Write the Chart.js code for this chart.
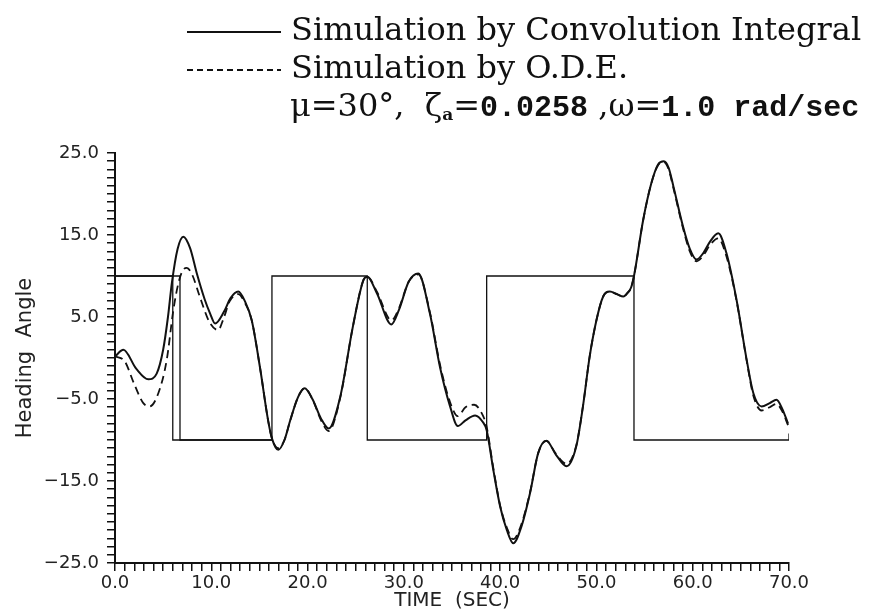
<!DOCTYPE html>
<html>
<head>
<meta charset="utf-8">
<script src="https://cdn.jsdelivr.net/npm/chart.js@4.4.1/dist/chart.umd.min.js"></script>
<style>
  html, body { margin: 0; padding: 0; background: #fff; }
  #wrap { position: relative; width: 876px; height: 615px; }
  #legend { position: absolute; left: 0; top: 0; font-family: "DejaVu Serif", serif; color: #111; }
  .row { position: absolute; left: 187px; white-space: nowrap; font-size: 32px; line-height: 36px; }
  .sample { display: inline-block; width: 94px; height: 2px; vertical-align: middle; margin-right: 10px; }
  .solid { background: #111; }
  .dashed { background: repeating-linear-gradient(to right, #111 0 6px, transparent 6px 10px); }
  .num { font-family: "Liberation Mono", monospace; font-weight: bold; font-size: 30px; }
  sub { font-size: 17px; font-weight: bold; vertical-align: -4px; }
</style>
</head>
<body>
<div id="wrap">
  <canvas id="chart" width="876" height="615"></canvas>
  <div id="legend">
    <div class="row" style="top:11px"><span class="sample solid"></span>Simulation by Convolution Integral</div>
    <div class="row" style="top:49px"><span class="sample dashed"></span>Simulation by O.D.E.</div>
    <div class="row" style="top:87px; left:290px">μ=30°,&nbsp; ζ<sub>a</sub>=<span class="num">0.0258</span> ,ω=<span class="num">1.0 rad/sec</span></div>
  </div>
</div>
<script>
// 畳み込み積分によるシミュレーション（実線）
const convT = [0, 0.87, 2.2, 3.46, 4.33, 5.0, 5.5, 5.9, 6.5, 7.1, 7.8, 8.5, 9.3, 9.87, 10.4, 11.3, 12.0, 12.8, 13.5, 14.2,
    15.05, 15.9, 16.3, 16.96, 17.6, 18.2, 19.0, 19.7, 20.5, 21.4, 22.2, 23.4, 24.7, 25.8, 26.2, 27.2, 28.7, 29.5, 30.5, 31.5,
    32.7, 33.75, 34.8, 35.6, 36.4, 37.4, 38.2, 38.6, 39.3, 40.0, 40.7, 41.36, 42.2, 43.1, 43.95, 44.8, 45.8, 46.9, 47.9, 48.6,
    49.3, 50.0, 50.7, 51.4, 52.1, 52.8, 53.2, 53.6, 53.9, 54.85, 55.7, 56.4, 57.0, 57.5, 58.0, 59.0, 59.7, 60.4, 61.1, 61.8,
    62.65, 63.5, 64.55, 65.6, 66.3, 67.15, 68.0, 68.7, 69.3, 69.9];
const convV = [0.2, 1.0, -1.3, -2.6, -1.9, 1.0, 5.0, 9.1, 13.3, 14.8, 13.4, 10.3, 7.2, 5.45, 4.2, 5.6, 7.3, 8.1, 6.9, 4.6,
    -1.1, -7.6, -9.8, -11.2, -10.0, -7.6, -4.8, -3.7, -5.0, -7.4, -8.6, -4.7, 3.8, 9.5, 9.9, 7.9, 4.1, 5.9, 9.3, 10.3,
    5.45, -1.1, -5.9, -8.3, -7.6, -7.0, -7.8, -8.8, -13.7, -18.1, -21.0, -22.6, -20.6, -16.5, -11.6, -10.1, -11.8, -13.2, -10.8, -5.9,
    0.2, 4.6, 7.5, 8.1, 7.8, 7.5, 7.9, 8.6, 10.0, 16.8, 21.3, 23.6, 24.0, 23.2, 20.9, 16.0, 13.3, 12.0, 12.8, 14.2,
    15.2, 12.8, 7.1, -0.2, -4.3, -5.9, -5.5, -5.1, -6.2, -8.0];

// 常微分方程式によるシミュレーション（破線）
const odeT = [0, 1.04, 1.9, 2.94, 3.6, 4.5, 5.37, 6.06, 6.58, 7.0, 7.45, 8.0, 8.8, 9.8, 10.7, 11.3, 11.9, 12.8, 13.5, 14.2,
    15.05, 15.9, 16.3, 16.96, 17.6, 18.2, 19.0, 19.7, 20.5, 21.4, 22.2, 23.4, 24.7, 25.8, 26.2, 27.2, 28.7, 29.5, 30.5, 31.5,
    32.7, 33.75, 34.8, 35.6, 36.4, 37.3, 38.2, 38.6, 39.3, 40.0, 40.7, 41.36, 42.2, 43.1, 43.95, 44.8, 45.8, 46.9, 47.9, 48.6,
    49.3, 50.0, 50.7, 51.4, 52.1, 52.8, 53.2, 53.6, 53.9, 54.85, 55.7, 56.4, 57.0, 57.5, 58.0, 59.0, 59.7, 60.4, 61.1, 61.8,
    62.65, 63.5, 64.55, 65.6, 66.3, 67.15, 68.0, 68.7, 69.3, 69.9];
const odeV = [0.2, -0.45, -2.9, -5.5, -5.9, -4.3, -0.25, 5.85, 9.1, 10.6, 11.0, 10.2, 7.5, 4.4, 3.4, 4.9, 6.9, 7.8, 6.7, 4.6,
    -1.1, -7.6, -9.8, -11.0, -10.0, -7.6, -4.8, -3.7, -5.0, -7.6, -8.9, -4.8, 3.8, 9.5, 9.9, 8.1, 4.6, 6.1, 9.3, 10.2,
    5.6, -0.8, -5.4, -7.1, -6.0, -5.7, -7.0, -8.4, -13.5, -18.0, -20.7, -22.1, -20.3, -16.4, -11.6, -10.1, -11.7, -12.9, -10.7, -5.9,
    0.2, 4.6, 7.5, 8.1, 7.8, 7.5, 7.9, 8.6, 10.0, 16.8, 21.3, 23.5, 23.9, 23.0, 20.7, 15.8, 13.0, 11.8, 12.5, 13.8,
    14.6, 12.4, 7.0, -0.3, -4.6, -6.4, -6.0, -5.6, -6.5, -8.2];

// 舵角指令（±10 の矩形波）。最初の切替だけ 2 本ある
const cmdT = [0, 6.0, 6.0, 16.3, 16.3, 26.2, 26.2, 38.6, 38.6, 53.9, 53.9, 70, 70];
const cmdV = [10, 10, -10, -10, 10, 10, -10, -10, 10, 10, -10, -10, -9.2];
const cmd2T = [0, 6.75, 6.75, 16.3];
const cmd2V = [10, 10, -10, -10];

// 目盛ラベル
const xTickLabels = [0, 10, 20, 30, 40, 50, 60, 70];
const yTickLabels = [-25, -15, -5, 5, 15, 25];

const pts = (t, v) => t.map((x, i) => ({ x: x, y: v[i] }));
const fmt = (v) => (v < 0 ? "\u2212" : "") + Math.abs(v).toFixed(1);

const ink = "#111";
const tickFont = { family: "DejaVu Sans", size: 18 };
const titleFont = { family: "DejaVu Sans", size: 21 };

new Chart(document.getElementById("chart"), {
    type: "scatter",
    data: {
        datasets: [
            { data: pts(cmdT, cmdV), showLine: true, borderColor: ink, borderWidth: 1.3, tension: 0 },
            { data: pts(cmd2T, cmd2V), showLine: true, borderColor: ink, borderWidth: 1.3, tension: 0 },
            { data: pts(odeT, odeV), showLine: true, borderColor: ink, borderWidth: 1.8,
              borderDash: [8, 5], cubicInterpolationMode: "monotone" },
            { data: pts(convT, convV), showLine: true, borderColor: ink, borderWidth: 2,
              cubicInterpolationMode: "monotone" },
        ],
    },
    options: {
        responsive: false,
        animation: false,
        layout: { padding: { left: 0, right: 87, top: 153, bottom: 0 } },
        elements: { point: { radius: 0, hoverRadius: 0 } },
        plugins: { legend: { display: false }, tooltip: { enabled: false } },
        scales: {
            x: {
                type: "linear",
                min: 0,
                max: 70,
                ticks: {
                    stepSize: 1,
                    autoSkip: false,
                    maxRotation: 0,
                    padding: 2,
                    color: "#222",
                    font: tickFont,
                    callback: (v) => (xTickLabels.includes(v) ? fmt(v) : ""),
                },
                grid: { drawOnChartArea: false, drawTicks: true, tickLength: 8, color: ink, lineWidth: 1.5 },
                border: { display: true, color: ink, width: 2 },
                title: { display: true, text: "TIME  (SEC)", color: "#222", font: { family: "DejaVu Sans", size: 20 }, padding: { top: 0, bottom: 2 } },
                afterFit: (s) => { s.height = 52; },
            },
            y: {
                type: "linear",
                min: -25,
                max: 25,
                ticks: {
                    stepSize: 1,
                    autoSkip: false,
                    padding: 8,
                    color: "#222",
                    font: tickFont,
                    callback: (v) => (yTickLabels.includes(v) ? fmt(v) : ""),
                },
                grid: { drawOnChartArea: false, drawTicks: true, tickLength: 8, color: ink, lineWidth: 1.5 },
                border: { display: true, color: ink, width: 2 },
                title: { display: true, text: "Heading  Angle", color: "#222", font: titleFont, padding: { top: 13, bottom: 0 } },
                afterFit: (s) => { s.width = 115; },
            },
        },
    },
});
</script>
</body>
</html>
